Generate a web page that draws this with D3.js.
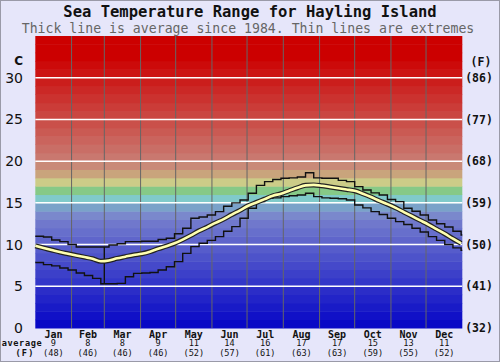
<!DOCTYPE html>
<html>
<head>
<meta charset="utf-8">
<script src="https://cdn.jsdelivr.net/npm/d3@7"></script>
<style>
  body { margin: 0; background: #e6e6fa; }
  svg { display: block; }
  .mono { font-family: "DejaVu Sans Mono", monospace; }
</style>
</head>
<body>
<svg id="chart"></svg>
<script>
// months and their first day of year
const months = ["Jan", "Feb", "Mar", "Apr", "May", "Jun", "Jul", "Aug", "Sep", "Oct", "Nov", "Dec"];
const monthStarts = [0, 31, 59, 90, 120, 151, 181, 212, 243, 273, 304, 334, 365];
const avgC = [9, 8, 8, 9, 11, 14, 16, 17, 17, 15, 13, 11];
const avgF = [48, 46, 46, 46, 52, 57, 61, 63, 63, 59, 55, 52];

const cTicks = [0, 5, 10, 15, 20, 25, 30];
const fTicks = ["(32)", "(41)", "(50)", "(59)", "(68)", "(77)", "(86)"];

// weekly values, one per 7 days from 1 Jan
const weekMax = [11.0, 10.9, 10.55, 10.35, 10.0, 9.7, 9.7, 9.7, 9.7, 9.95, 10.1, 10.35, 10.35,
  10.4, 10.4, 10.6, 10.75, 11.3, 11.95, 13.15, 13.3, 13.55, 13.95, 14.6, 15.0, 15.35, 16.15,
  17.1, 17.55, 17.8, 17.95, 18.0, 18.1, 18.6, 18.0, 17.95, 17.95, 17.7, 17.55, 16.95, 16.55,
  16.2, 15.95, 15.4, 15.15, 14.35, 14.0, 13.55, 12.95, 12.5, 12.1, 11.6, 11.15];
const weekMin = [7.85, 7.6, 7.45, 7.2, 6.95, 6.6, 6.3, 5.95, 5.3, 5.3, 5.35, 6.15, 6.55,
  6.6, 6.65, 6.95, 7.35, 7.95, 8.95, 9.75, 10.15, 10.5, 10.95, 11.6, 12.15, 13.15, 14.35,
  15.15, 15.55, 15.6, 15.75, 15.85, 15.95, 16.15, 15.75, 15.6, 15.55, 15.5, 15.35, 14.75, 14.4,
  13.95, 13.6, 13.15, 12.75, 12.4, 11.95, 11.5, 10.95, 10.5, 10.0, 9.6, 9.3];
const weekAvg = [9.85, 9.6, 9.35, 9.1, 8.9, 8.7, 8.5, 8.3, 8.0, 8.1, 8.35, 8.55, 8.75,
  8.9, 9.15, 9.5, 9.8, 10.15, 10.6, 11.1, 11.65, 12.1, 12.6, 13.05, 13.6, 14.1, 14.65,
  15.05, 15.45, 15.85, 16.1, 16.45, 16.8, 17.1, 17.15, 17.05, 16.9, 16.75, 16.6, 16.45, 16.1,
  15.7, 15.25, 14.85, 14.4, 13.9, 13.4, 12.9, 12.4, 11.85, 11.3, 10.7, 10.15];
// single odd reading on 29 Feb
const leapDay = { day: 59, low: 5.3, high: 9.7 };

const width = 500, height = 362;
const plot = { left: 35.3, right: 462.3, top: 36, bottom: 328 };

const svg = d3.select("#chart")
  .attr("width", width)
  .attr("height", height);

svg.append("rect")
  .attr("width", width - 1)
  .attr("height", height - 1)
  .attr("x", 0.5).attr("y", 0.5)
  .attr("fill", "#e6e6fa")
  .attr("stroke", "#9a9aa8");

const x = d3.scaleLinear().domain([0, 365]).range([plot.left, plot.right]);
const y = d3.scaleLinear().domain([0, 35]).range([plot.bottom, plot.top]);

// colour bands, one per degree
function bandColour(t) {
  if (t >= 32) return "#cc0000";
  if (t >= 20) return d3.interpolateRgb("#c9786f", "#cc0a0a")((t - 20) / 11);
  const mid = { 19: "#c98a78", 18: "#c9a47c", 17: "#cccc88", 16: "#86c987", 15: "#80caca", 14: "#7aa2c9", 13: "#7a88cc" };
  if (mid[t]) return mid[t];
  return d3.interpolateRgb("#0808c6", "#7078cc")(t / 12);
}

svg.append("g")
  .selectAll("rect")
  .data(d3.range(0, 35))
  .join("rect")
    .attr("x", plot.left)
    .attr("width", plot.right - plot.left)
    .attr("y", d => y(d + 1))
    .attr("height", d => y(d) - y(d + 1) + 0.5)
    .attr("fill", d => bandColour(d));

// month grid lines
svg.append("g")
  .selectAll("line")
  .data(monthStarts.slice(1, 12))
  .join("line")
    .attr("x1", d => x(d)).attr("x2", d => x(d))
    .attr("y1", plot.top).attr("y2", plot.bottom)
    .attr("stroke", "#666")
    .attr("stroke-width", 1);

// white lines every 5 degrees
svg.append("g")
  .selectAll("line")
  .data(cTicks.slice(1))
  .join("line")
    .attr("x1", plot.left).attr("x2", plot.right)
    .attr("y1", d => y(d)).attr("y2", d => y(d))
    .attr("stroke", "#fff")
    .attr("stroke-width", 1.5);

// series
const weekDay = i => Math.min(i * 7, 365);
const stepLine = d3.line()
  .x(d => x(d[0]))
  .y(d => y(d[1]))
  .curve(d3.curveStepAfter);
const withEnd = arr => arr.map((v, i) => [weekDay(i), v]).concat([[365, arr[arr.length - 1]]]);

svg.append("path")
  .attr("d", stepLine(withEnd(weekMax)))
  .attr("fill", "none").attr("stroke", "#111").attr("stroke-width", 1.4);
svg.append("path")
  .attr("d", stepLine(withEnd(weekMin)))
  .attr("fill", "none").attr("stroke", "#111").attr("stroke-width", 1.4);

svg.append("line")
  .attr("x1", x(leapDay.day)).attr("x2", x(leapDay.day))
  .attr("y1", y(leapDay.high)).attr("y2", y(leapDay.low))
  .attr("stroke", "#111").attr("stroke-width", 1.4);

const avgLine = d3.line()
  .x((d, i) => x(weekDay(i)))
  .y(d => y(d))
  .curve(d3.curveMonotoneX);

svg.append("path")
  .attr("d", avgLine(weekAvg))
  .attr("fill", "none").attr("stroke", "#222").attr("stroke-width", 5);
svg.append("path")
  .attr("d", avgLine(weekAvg))
  .attr("fill", "none").attr("stroke", "#ffffb0").attr("stroke-width", 2.6);

// titles
svg.append("text")
  .classed("mono", true)
  .attr("x", 250).attr("y", 17)
  .attr("text-anchor", "middle")
  .attr("font-size", 15.5).attr("font-weight", "bold")
  .attr("fill", "#111")
  .text("Sea Temperature Range for Hayling Island");

svg.append("text")
  .classed("mono", true)
  .attr("x", 248).attr("y", 32.5)
  .attr("text-anchor", "middle")
  .attr("font-size", 13.2)
  .attr("fill", "#666")
  .text("Thick line is average since 1984. Thin lines are extremes");

// left axis (C)
const left = svg.append("g")
  .attr("font-family", "DejaVu Sans, sans-serif")
  .attr("font-size", 14)
  .attr("fill", "#111");
left.selectAll("text.tick")
  .data(cTicks)
  .join("text")
    .classed("tick", true)
    .attr("x", 23)
    .attr("y", d => y(d))
    .attr("dy", "0.36em")
    .attr("text-anchor", "end")
    .text(d => d);
left.append("text")
  .attr("x", 23).attr("y", 61).attr("dy", "0.36em")
  .attr("text-anchor", "end")
  .attr("font-weight", "bold")
  .attr("font-size", 12)
  .text("C");

// right axis (F)
const right = svg.append("g")
  .classed("mono", true)
  .attr("font-size", 11.5)
  .attr("font-weight", "bold")
  .attr("fill", "#111");
right.selectAll("text.tick")
  .data(fTicks)
  .join("text")
    .classed("tick", true)
    .attr("x", 479)
    .attr("y", (d, i) => y(cTicks[i]))
    .attr("dy", "0.36em")
    .attr("text-anchor", "middle")
    .text(d => d);
right.append("text")
  .attr("x", 481).attr("y", 62).attr("dy", "0.36em")
  .attr("text-anchor", "middle")
  .text("(F)");

// month labels and monthly averages
const mid = i => x((monthStarts[i] + monthStarts[i + 1]) / 2);
const bottom = svg.append("g").classed("mono", true).attr("fill", "#111").attr("text-anchor", "middle");
bottom.selectAll("text.month")
  .data(months)
  .join("text")
    .classed("month", true)
    .attr("x", (d, i) => mid(i))
    .attr("y", 337.5)
    .attr("font-size", 10).attr("font-weight", "bold")
    .text(d => d);
bottom.selectAll("text.avgc")
  .data(avgC)
  .join("text")
    .classed("avgc", true)
    .attr("x", (d, i) => mid(i))
    .attr("y", 346)
    .attr("font-size", 8.6)
    .text(d => d);
bottom.selectAll("text.avgf")
  .data(avgF)
  .join("text")
    .classed("avgf", true)
    .attr("x", (d, i) => mid(i))
    .attr("y", 355.5)
    .attr("font-size", 8.6)
    .text(d => `(${d})`);
bottom.append("text")
  .attr("x", 22).attr("y", 346)
  .attr("font-size", 8.6).attr("font-weight", "bold")
  .attr("letter-spacing", 0.6)
  .text("average");
bottom.append("text")
  .attr("x", 25).attr("y", 355.5)
  .attr("font-size", 8.6).attr("font-weight", "bold")
  .attr("letter-spacing", 1.2)
  .text("(F)");
</script>
</body>
</html>
